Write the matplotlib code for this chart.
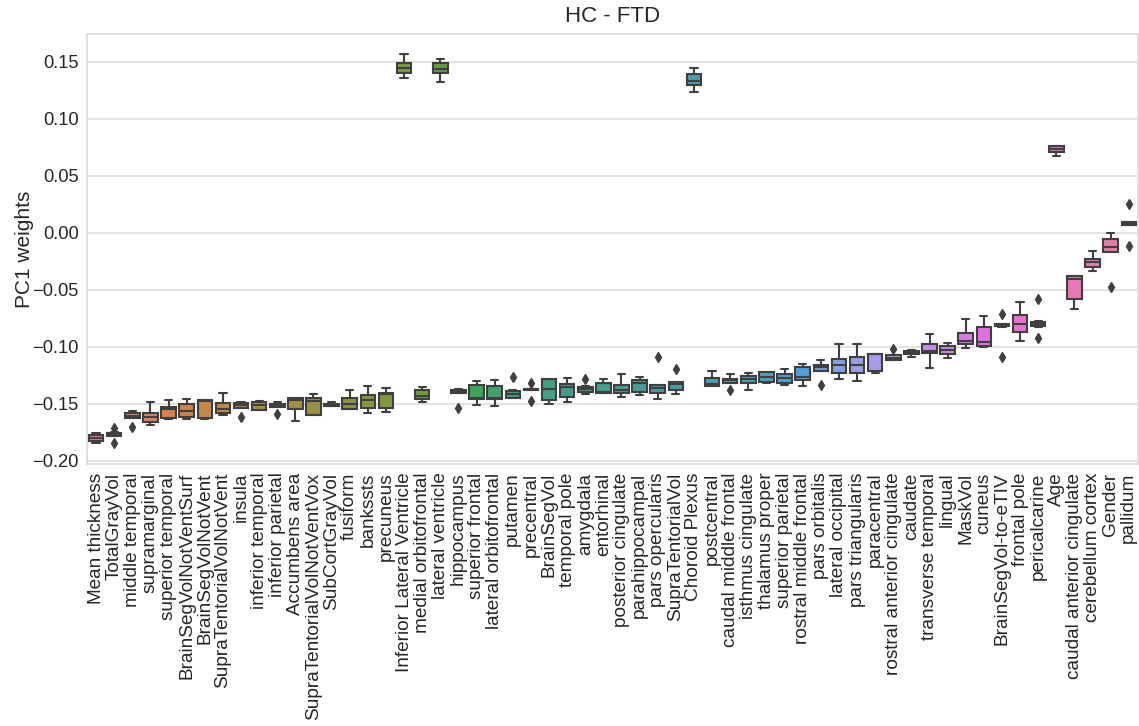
import matplotlib
matplotlib.use("Agg")
import colorsys
import matplotlib.pyplot as plt
import seaborn as sns

labels = [
    "Mean thickness", "TotalGrayVol", "middle temporal", "supramarginal",
    "superior temporal", "BrainSegVolNotVentSurf", "BrainSegVolNotVent",
    "SupraTentorialVolNotVent", "insula", "inferior temporal",
    "inferior parietal", "Accumbens area", "SupraTentorialVolNotVentVox",
    "SubCortGrayVol", "fusiform", "bankssts", "precuneus",
    "Inferior Lateral Ventricle", "medial orbitofrontal", "lateral ventricle",
    "hippocampus", "superior frontal", "lateral orbitofrontal", "putamen",
    "precentral", "BrainSegVol", "temporal pole", "amygdala", "entorhinal",
    "posterior cingulate", "parahippocampal", "pars opercularis",
    "SupraTentorialVol", "Choroid Plexus", "postcentral",
    "caudal middle frontal", "isthmus cingulate", "thalamus proper",
    "superior parietal", "rostral middle frontal", "pars orbitalis",
    "lateral occipital", "pars triangularis", "paracentral",
    "rostral anterior cingulate", "caudate", "transverse temporal", "lingual",
    "MaskVol", "cuneus", "BrainSegVol-to-eTIV", "frontal pole",
    "pericalcarine", "Age", "caudal anterior cingulate", "cerebellum cortex",
    "Gender", "pallidum",
]

whislo = [
    -0.1845, -0.1782, -0.1625, -0.1684, -0.1634, -0.1631, -0.1628, -0.1594,
    -0.1535, -0.1556, -0.1527, -0.1646, -0.1596, -0.1522, -0.1541, -0.1582,
    -0.1573, 0.1360, -0.1480, 0.1325, -0.1404, -0.1511, -0.1518, -0.1447,
    -0.1378, -0.1497, -0.1482, -0.1415, -0.1407, -0.1436, -0.1421, -0.1456,
    -0.1412, 0.1237, -0.1345, -0.1315, -0.1377, -0.1312, -0.1330, -0.1345,
    -0.1209, -0.1278, -0.1296, -0.1232, -0.1116, -0.1088, -0.1181, -0.1100,
    -0.1006, -0.1000, -0.0821, -0.0945, -0.0822, 0.0673, -0.0668, -0.0331,
    -0.0168, 0.0069,
]
q1 = [
    -0.1827, -0.1780, -0.1620, -0.1660, -0.1620, -0.1611, -0.1625, -0.1582,
    -0.1532, -0.1553, -0.1524, -0.1547, -0.1596, -0.1520, -0.1540, -0.1532,
    -0.1532, 0.1407, -0.1459, 0.1400, -0.1404, -0.1459, -0.1459, -0.1445,
    -0.1375, -0.1465, -0.1436, -0.1395, -0.1405, -0.1407, -0.1392, -0.1401,
    -0.1377, 0.1300, -0.1342, -0.1313, -0.1319, -0.1310, -0.1313, -0.1290,
    -0.1207, -0.1226, -0.1226, -0.1212, -0.1114, -0.1062, -0.1056, -0.1062,
    -0.0974, -0.0993, -0.0819, -0.0865, -0.0820, 0.0706, -0.0580, -0.0300,
    -0.0168, 0.0069,
]
med = [
    -0.1800, -0.1765, -0.1602, -0.1617, -0.1547, -0.1564, -0.1478, -0.1541,
    -0.1506, -0.1509, -0.1510, -0.1468, -0.1470, -0.1506, -0.1503, -0.1468,
    -0.1412, 0.1450, -0.1427, 0.1442, -0.1388, -0.1452, -0.1445, -0.1412,
    -0.1371, -0.1371, -0.1354, -0.1371, -0.1395, -0.1380, -0.1313, -0.1362,
    -0.1325, 0.1330, -0.1325, -0.1293, -0.1284, -0.1266, -0.1269, -0.1266,
    -0.1173, -0.1159, -0.1155, -0.1066, -0.1094, -0.1045, -0.1036, -0.1027,
    -0.0945, -0.0955, -0.0808, -0.0798, -0.0795, 0.0735, -0.0404, -0.0259,
    -0.0121, 0.0080,
]
q3 = [
    -0.1775, -0.1752, -0.1582, -0.1576, -0.1524, -0.1503, -0.1465, -0.1494,
    -0.1491, -0.1482, -0.1497, -0.1452, -0.1447, -0.1497, -0.1444, -0.1421,
    -0.1404, 0.1495, -0.1380, 0.1489, -0.1375, -0.1333, -0.1345, -0.1383,
    -0.1367, -0.1284, -0.1325, -0.1348, -0.1319, -0.1336, -0.1290, -0.1333,
    -0.1307, 0.1398, -0.1275, -0.1278, -0.1255, -0.1222, -0.1237, -0.1173,
    -0.1155, -0.1103, -0.1088, -0.1062, -0.1073, -0.1033, -0.0975, -0.0992,
    -0.0875, -0.0828, -0.0797, -0.0719, -0.0778, 0.0764, -0.0380, -0.0230,
    -0.0051, 0.0093,
]
whishi = [
    -0.1754, -0.1748, -0.1564, -0.1480, -0.1462, -0.1459, -0.1462, -0.1404,
    -0.1480, -0.1474, -0.1480, -0.1450, -0.1410, -0.1485, -0.1376, -0.1342,
    -0.1362, 0.1567, -0.1354, 0.1526, -0.1369, -0.1298, -0.1290, -0.1380,
    -0.1365, -0.1282, -0.1275, -0.1345, -0.1278, -0.1234, -0.1260, -0.1331,
    -0.1305, 0.1445, -0.1207, -0.1234, -0.1225, -0.1220, -0.1190, -0.1147,
    -0.1114, -0.0977, -0.0972, -0.1060, -0.1070, -0.1030, -0.0884, -0.0962,
    -0.0758, -0.0726, -0.0795, -0.0602, -0.0775, 0.0766, -0.0378, -0.0160,
    0.0001, 0.0093,
]
outliers = {
    1: [-0.1710, -0.1840],
    2: [-0.1700],
    8: [-0.1611],
    10: [-0.1590],
    20: [-0.1532],
    23: [-0.1260],
    24: [-0.1316, -0.1478],
    27: [-0.1278],
    31: [-0.1091],
    32: [-0.1190],
    35: [-0.1377],
    40: [-0.1330],
    44: [-0.1018],
    50: [-0.0714, -0.1088],
    52: [-0.0580, -0.0917],
    56: [-0.0477],
    57: [0.0250, -0.0115],
}

sns.set_style("whitegrid", {"grid.color": ".87", "axes.edgecolor": ".85"})
plt.rcParams["font.family"] = ["Liberation Sans", "DejaVu Sans"]
plt.rcParams["axes.unicode_minus"] = True

colors = sns.color_palette("husl", len(labels))
colors = [sns.desaturate(c, 0.75) for c in colors]
lum = min(colorsys.rgb_to_hls(*c)[1] for c in colors) * 0.6
gray = (lum, lum, lum)

stats = []
for i, name in enumerate(labels):
    stats.append({
        "label": name,
        "whislo": whislo[i], "q1": q1[i], "med": med[i],
        "q3": q3[i], "whishi": whishi[i],
        "fliers": outliers.get(i, []),
    })

fig = plt.figure(figsize=(11.39, 7.26), dpi=100)
ax = fig.add_axes([0.0764, 0.3605, 0.9226, 0.5923])

lw = 1.5
bp = ax.bxp(
    stats, positions=range(len(labels)), widths=0.8, patch_artist=True,
    boxprops=dict(edgecolor=gray, linewidth=lw),
    medianprops=dict(color=gray, linewidth=lw),
    whiskerprops=dict(color=gray, linewidth=lw),
    capprops=dict(color=gray, linewidth=lw),
    flierprops=dict(marker="d", markerfacecolor=gray, markeredgecolor=gray,
                    markersize=5, linestyle="none"),
)
for patch, c in zip(bp["boxes"], colors):
    patch.set_facecolor(c)

ax.set_xlim(-0.5, len(labels) - 0.5)
ax.set_ylim(-0.2029, 0.1743)
ax.set_yticks([-0.20, -0.15, -0.10, -0.05, 0.00, 0.05, 0.10, 0.15])
ax.set_yticklabels(["\u22120.20", "\u22120.15", "\u22120.10", "\u22120.05",
                    "0.00", "0.05", "0.10", "0.15"])
ax.set_xticks(range(len(labels)))
ax.set_xticklabels(labels, rotation=90)
ax.tick_params(axis="y", labelsize=13.2, colors=".15", length=0, pad=6)
ax.tick_params(axis="x", labelsize=13.7, colors=".15", length=0, pad=6)
ax.xaxis.grid(False)
ax.yaxis.grid(True, linewidth=1.2)
ax.set_axisbelow(True)
for s in ax.spines.values():
    s.set_linewidth(1.2)

ax.set_ylabel("PC1 weights", fontsize=15, color=".15", labelpad=-1)
ax.set_title("HC - FTD", fontsize=16, color=".15", pad=9)

fig.savefig("out.png", dpi=100)
